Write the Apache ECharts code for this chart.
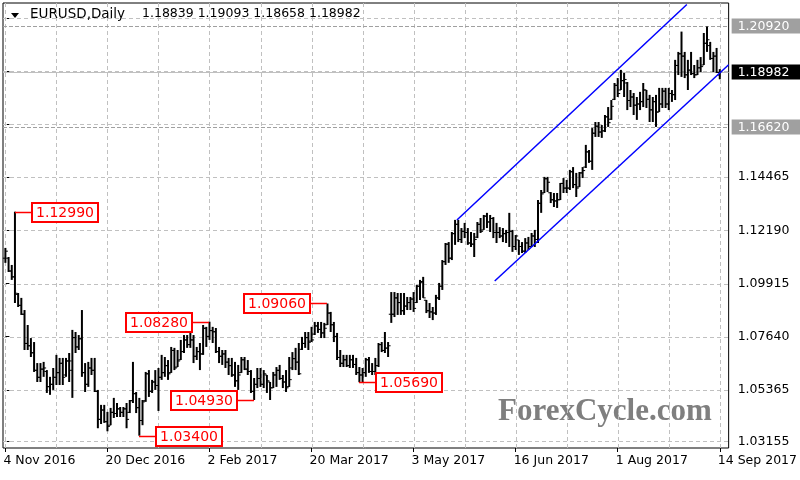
<!DOCTYPE html>
<html><head><meta charset="utf-8">
<script src="https://cdn.jsdelivr.net/npm/echarts@6/dist/echarts.min.js"></script>
<style>html,body{margin:0;padding:0;background:#fff}#c{width:800px;height:480px}</style>
</head><body><div id="c"></div><script>
// EURUSD Daily, one bar per weekday from 4 Nov 2016 (index 0) to 14 Sep 2017 (index 224)
const opens=[
1.1100,1.1100,1.1045,1.1020,1.0945,1.0898,1.0860,1.0735,1.0725,1.0695,
1.0620,1.0590,1.0625,1.0615,1.0550,1.0560,1.0590,1.0610,1.0650,1.0600,
1.0660,1.0620,1.0760,1.0720,1.0755,1.0610,1.0560,1.0630,1.0620,1.0530,
1.0410,1.0450,1.0400,1.0385,1.0440,1.0435,1.0455,1.0440,1.0455,1.0440,
1.0490,1.0520,1.0460,1.0405,1.0490,1.0605,1.0530,1.0570,1.0555,1.0590,
1.0610,1.0640,1.0610,1.0705,1.0634,1.0665,1.0700,1.0750,1.0730,1.0750,
1.0680,1.0700,1.0690,1.0800,1.0765,1.0790,1.0785,1.0700,1.0680,1.0690,
1.0655,1.0640,1.0600,1.0575,1.0610,1.0665,1.0625,1.0615,1.0530,1.0560,
1.0585,1.0560,1.0600,1.0570,1.0545,1.0600,1.0620,1.0585,1.0570,1.0550,
1.0630,1.0670,1.0655,1.0710,1.0735,1.0760,1.0745,1.0775,1.0810,1.0795,
1.0780,1.0815,1.0865,1.0815,1.0765,1.0675,1.0650,1.0665,1.0640,1.0665,
1.0645,1.0610,1.0600,1.0610,1.0665,1.0615,1.0615,1.0640,1.0730,1.0705,
1.0715,1.0860,1.0860,1.0930,1.0910,1.0875,1.0895,1.0910,1.0925,1.0910,
1.0980,1.1000,1.0920,1.0875,1.0870,1.0865,1.0930,1.0980,1.1085,1.1160,
1.1100,1.1205,1.1245,1.1180,1.1215,1.1210,1.1165,1.1160,1.1190,1.1245,
1.1221,1.1280,1.1255,1.1270,1.1210,1.1210,1.1195,1.1205,1.1210,1.1215,
1.1150,1.1178,1.1150,1.1130,1.1165,1.1150,1.1195,1.1180,1.1335,1.1380,
1.1440,1.1380,1.1350,1.1345,1.1350,1.1420,1.1400,1.1400,1.1470,1.1415,
1.1405,1.1465,1.1490,1.1555,1.1515,1.1635,1.1665,1.1640,1.1645,1.1705,
1.1695,1.1780,1.1840,1.1820,1.1860,1.1850,1.1775,1.1790,1.1755,1.1760,
1.1770,1.1820,1.1780,1.1735,1.1770,1.1726,1.1760,1.1815,1.1760,1.1805,
1.1800,1.1925,1.1975,1.1965,1.1885,1.1905,1.1890,1.1885,1.1915,1.1927,
1.2020,1.2010,1.1955,1.1965,1.18839];
const highs=[
1.1144,1.1105,1.1071,1.1299,1.0951,1.0930,1.0878,1.0814,1.0758,1.0741,
1.0651,1.0651,1.0656,1.0621,1.0592,1.0630,1.0686,1.0673,1.0673,1.0673,
1.0694,1.0793,1.0784,1.0771,1.0878,1.0651,1.0656,1.0673,1.0673,1.0536,
1.0472,1.0472,1.0442,1.0459,1.0502,1.0480,1.0463,1.0463,1.0480,1.0493,
1.0656,1.0527,1.0502,1.0493,1.0613,1.0621,1.0579,1.0621,1.0630,1.0686,
1.0677,1.0664,1.0720,1.0716,1.0707,1.0750,1.0771,1.0771,1.0780,1.0771,
1.0720,1.0737,1.0814,1.0806,1.0828,1.0806,1.0801,1.0720,1.0707,1.0707,
1.0673,1.0673,1.0656,1.0643,1.0677,1.0677,1.0664,1.0621,1.0587,1.0630,
1.0630,1.0621,1.0600,1.0570,1.0613,1.0634,1.0643,1.0600,1.0621,1.0677,
1.0698,1.0716,1.0737,1.0763,1.0784,1.0784,1.0806,1.0827,1.0827,1.0827,
1.0823,1.0906,1.0870,1.0827,1.0780,1.0707,1.0686,1.0686,1.0686,1.0686,
1.0673,1.0634,1.0630,1.0673,1.0677,1.0651,1.0673,1.0737,1.0741,1.0784,
1.0741,1.0955,1.0955,1.0951,1.0951,1.0951,1.0934,1.0934,1.0955,1.0985,
1.1007,1.1020,1.0921,1.0908,1.0891,1.0943,1.0994,1.1092,1.1165,1.1169,
1.1212,1.1264,1.1264,1.1229,1.1251,1.1229,1.1212,1.1208,1.1255,1.1272,
1.1285,1.1294,1.1285,1.1276,1.1251,1.1233,1.1229,1.1221,1.1294,1.1221,
1.1199,1.1178,1.1169,1.1186,1.1191,1.1208,1.1221,1.1349,1.1392,1.1448,
1.1448,1.1383,1.1379,1.1379,1.1422,1.1443,1.1435,1.1478,1.1490,1.1465,
1.1469,1.1490,1.1585,1.1563,1.1657,1.1683,1.1683,1.1670,1.1713,1.1747,
1.1777,1.1850,1.1871,1.1906,1.1893,1.1854,1.1820,1.1807,1.1790,1.1812,
1.1850,1.1820,1.1799,1.1790,1.1799,1.1829,1.1829,1.1829,1.1829,1.1820,
1.1949,1.1983,1.2070,1.1983,1.1949,1.1983,1.1927,1.1949,1.1961,1.2064,
1.2092,1.2026,1.1983,1.2000,1.19093];
const lows=[
1.1080,1.1041,1.1007,1.0908,1.0891,1.0857,1.0707,1.0707,1.0677,1.0613,
1.0570,1.0570,1.0592,1.0523,1.0515,1.0536,1.0557,1.0557,1.0557,1.0592,
1.0570,1.0502,1.0694,1.0707,1.0592,1.0527,1.0549,1.0600,1.0527,1.0372,
1.0390,1.0395,1.0359,1.0385,1.0416,1.0420,1.0420,1.0420,1.0372,1.0437,
1.0480,1.0437,1.0340,1.0385,1.0485,1.0506,1.0523,1.0536,1.0446,1.0579,
1.0592,1.0579,1.0609,1.0621,1.0634,1.0664,1.0694,1.0716,1.0716,1.0651,
1.0664,1.0621,1.0686,1.0720,1.0750,1.0737,1.0694,1.0651,1.0643,1.0630,
1.0600,1.0592,1.0549,1.0536,1.0609,1.0621,1.0600,1.0523,1.0493,1.0544,
1.0549,1.0544,1.0523,1.0493,1.0544,1.0549,1.0579,1.0544,1.0527,1.0549,
1.0621,1.0621,1.0600,1.0707,1.0716,1.0707,1.0741,1.0771,1.0780,1.0758,
1.0758,1.0814,1.0784,1.0741,1.0664,1.0634,1.0634,1.0634,1.0630,1.0630,
1.0600,1.0569,1.0570,1.0592,1.0609,1.0600,1.0600,1.0634,1.0698,1.0694,
1.0677,1.0823,1.0848,1.0857,1.0857,1.0857,1.0878,1.0878,1.0870,1.0908,
1.0921,1.0930,1.0865,1.0844,1.0835,1.0857,1.0921,1.0964,1.1071,1.1080,
1.1092,1.1157,1.1169,1.1165,1.1186,1.1157,1.1148,1.1105,1.1186,1.1208,
1.1221,1.1229,1.1212,1.1186,1.1165,1.1186,1.1169,1.1165,1.1148,1.1127,
1.1135,1.1114,1.1122,1.1122,1.1135,1.1148,1.1148,1.1165,1.1294,1.1379,
1.1383,1.1336,1.1319,1.1315,1.1349,1.1379,1.1379,1.1392,1.1400,1.1362,
1.1405,1.1443,1.1486,1.1508,1.1478,1.1619,1.1619,1.1615,1.1640,1.1662,
1.1692,1.1777,1.1790,1.1820,1.1790,1.1734,1.1747,1.1713,1.1692,1.1734,
1.1747,1.1743,1.1683,1.1683,1.1662,1.1726,1.1743,1.1743,1.1734,1.1769,
1.1777,1.1884,1.1876,1.1871,1.1820,1.1884,1.1871,1.1884,1.1897,1.1927,
1.1983,1.1949,1.1897,1.1893,1.18658];
const closes=[
1.1130,1.1045,1.1020,1.0950,1.0898,1.0860,1.0735,1.0725,1.0695,1.0620,
1.0590,1.0625,1.0630,1.0550,1.0560,1.0590,1.0610,1.0650,1.0590,1.0660,
1.0660,1.0760,1.0720,1.0755,1.0610,1.0560,1.0630,1.0620,1.0530,1.0410,
1.0450,1.0400,1.0380,1.0440,1.0435,1.0455,1.0440,1.0455,1.0410,1.0490,
1.0520,1.0460,1.0405,1.0485,1.0605,1.0530,1.0570,1.0555,1.0590,1.0610,
1.0640,1.0605,1.0705,1.0630,1.0660,1.0700,1.0750,1.0730,1.0750,1.0680,
1.0700,1.0690,1.0800,1.0765,1.0790,1.0785,1.0700,1.0680,1.0690,1.0655,
1.0640,1.0600,1.0575,1.0600,1.0665,1.0625,1.0615,1.0530,1.0560,1.0585,
1.0560,1.0605,1.0575,1.0545,1.0600,1.0620,1.0585,1.0570,1.0545,1.0580,
1.0670,1.0655,1.0605,1.0735,1.0760,1.0740,1.0750,1.0810,1.0795,1.0780,
1.0800,1.0865,1.0815,1.0765,1.0675,1.0650,1.0665,1.0640,1.0665,1.0645,
1.0610,1.0600,1.0610,1.0665,1.0615,1.0615,1.0640,1.0730,1.0705,1.0715,
1.0725,1.0860,1.0930,1.0910,1.0875,1.0895,1.0910,1.0925,1.0885,1.0980,
1.0995,1.0930,1.0875,1.0870,1.0865,1.0930,1.0980,1.1085,1.1160,1.1100,
1.1205,1.1245,1.1180,1.1215,1.1210,1.1165,1.1160,1.1180,1.1245,1.1215,
1.1280,1.1255,1.1270,1.1210,1.1210,1.1195,1.1205,1.1210,1.1215,1.1150,
1.1195,1.1150,1.1130,1.1165,1.1150,1.1195,1.1180,1.1335,1.1375,1.1440,
1.1425,1.1350,1.1345,1.1350,1.1420,1.1400,1.1400,1.1470,1.1415,1.1400,
1.1465,1.1475,1.1555,1.1515,1.1635,1.1665,1.1640,1.1645,1.1705,1.1680,
1.1750,1.1840,1.1805,1.1860,1.1865,1.1775,1.1790,1.1755,1.1760,1.1770,
1.1820,1.1780,1.1735,1.1770,1.1725,1.1760,1.1815,1.1760,1.1805,1.1800,
1.1925,1.1975,1.1965,1.1885,1.1905,1.1890,1.1885,1.1915,1.1920,1.2020,
1.2035,1.1955,1.1965,1.1895,1.18982];

const xTickIdx=[0,32,64,96,128,160,192,224];
const xTickLabels=['4 Nov 2016','20 Dec 2016','2 Feb 2017','20 Mar 2017','3 May 2017','16 Jun 2017','1 Aug 2017','14 Sep 2017'];
const xGridIdx=[0,16,32,48,64,80,96,112,128,144,160,176,192,208,224];
const yGrid=[1.03155,1.05365,1.07640,1.09915,1.12190,1.14465,1.16740,1.19015,1.21290];
const yLabelTicks=[1.03155,1.05365,1.07640,1.09915,1.12190,1.14465];
const levelPrices=[1.20920,1.16620,1.18982];
const levelKinds=['level','level','last'];
const annIdx=[3,42,64,78,101,111];
const annPrice=[1.12990,1.03400,1.08280,1.04930,1.09060,1.05690];
const annSide=['r','r','l','l','l','r'];
const upperChannel=[[141.58,1.12635],[213.67,1.21860]];
const lowerChannel=[[153.43,1.10024],[226.78,1.19279]];
const titleName='EURUSD,Daily';
const titleValues='1.18839 1.19093 1.18658 1.18982';

const FONT='"DejaVu Sans", sans-serif';
const chart=echarts.init(document.getElementById('c'),null,{renderer:'canvas'});
const tickLabelMap={}; xTickIdx.forEach((v,k)=>tickLabelMap[v]=xTickLabels[k]);

const option={
  animation:false,
  backgroundColor:'#fff',
  grid:{left:3,top:3,right:68,bottom:32,show:true,borderColor:'#000',borderWidth:1,backgroundColor:'#fff'},
  xAxis:{type:'value',min:-0.746,max:226.78,
    axisLine:{show:false},
    axisTick:{show:true,customValues:xTickIdx,length:4,lineStyle:{color:'#000'}},
    axisLabel:{show:true,customValues:xTickIdx,formatter:v=>tickLabelMap[v]||'',align:'left',margin:6,color:'#000',fontFamily:FONT,fontSize:12.5,padding:[0,0,0,-2]},
    splitLine:{show:false}},
  yAxis:{type:'value',position:'right',min:1.02874,max:1.21924,scale:true,
    axisLine:{show:false},
    axisTick:{show:true,customValues:yGrid,length:4,lineStyle:{color:'#000'}},
    axisLabel:{show:true,customValues:yLabelTicks,formatter:v=>v.toFixed(5),margin:9,color:'#000',fontFamily:FONT,fontSize:12.5},
    splitLine:{show:false}},
  graphic:[
    {type:'polygon',shape:{points:[[11,13],[19,13],[15,18]]},style:{fill:'#000'},z:100},
    {type:'text',left:30,top:7,style:{text:titleName,fill:'#000',font:'13.5px '+FONT},z:100},
    {type:'text',left:142,top:7,style:{text:titleValues,fill:'#000',font:'12.5px '+FONT},z:100},
    {type:'text',left:498,top:396,style:{text:'ForexCycle.com',fill:'#7f7f7f',font:'bold 31px "Liberation Serif", serif'},z:1}
  ],
  series:[
    {type:'custom',name:'vgrid',z:1,silent:true,data:xGridIdx.map(v=>[v,1.1]),encode:{x:0,y:1},
      renderItem:(params,api)=>{const cs=params.coordSys;const x=Math.round(api.coord([api.value(0),api.value(1)])[0])+0.5;
        return {type:'line',shape:{x1:x,y1:cs.y,x2:x,y2:cs.y+cs.height},style:{stroke:'#c0c0c0',lineWidth:1,lineDash:[4,3]}};}},
    {type:'custom',name:'hgrid',z:1,silent:true,data:yGrid.map(v=>[0,v]),encode:{x:0,y:1},
      renderItem:(params,api)=>{const cs=params.coordSys;const y=Math.round(api.coord([api.value(0),api.value(1)])[1])+0.5;
        return {type:'line',shape:{x1:cs.x,y1:y,x2:cs.x+cs.width,y2:y},style:{stroke:'#c0c0c0',lineWidth:1,lineDash:[4,3]}};}},
    {type:'custom',name:'levels',z:2,silent:true,data:levelPrices.map((v,k)=>[0,v,k]),encode:{x:0,y:1},
      renderItem:(params,api)=>{const cs=params.coordSys;const k=params.dataIndex;const y=Math.round(api.coord([api.value(0),api.value(1)])[1])+0.5;
        const last=levelKinds[k]==='last';
        const bx=cs.x+cs.width+3;
        return {type:'group',children:[
          {type:'line',shape:{x1:cs.x,y1:y,x2:cs.x+cs.width,y2:y},style:{stroke:last?'#c0c0c0':'#a0a0a0',lineWidth:1,lineDash:last?null:[4,2]}},
          {type:'rect',shape:{x:bx,y:y-8,width:800-bx,height:15},style:{fill:last?'#000':'#a0a0a0'}},
          {type:'text',style:{text:levelPrices[k].toFixed(5),x:bx+6,y:y,verticalAlign:'middle',fill:'#fff',font:'12.5px '+FONT}}
        ]};}},
    {type:'custom',name:'EURUSD',z:5,silent:true,
      data:highs.map((h,i)=>[i,opens[i],h,lows[i],closes[i]]),
      dimensions:['i','open','high','low','close'],
      encode:{x:0,y:[1,2,3,4]},
      renderItem:(params,api)=>{const x=api.value(0);
        const pO=api.coord([x,api.value(1)]),pH=api.coord([x,api.value(2)]),pL=api.coord([x,api.value(3)]),pC=api.coord([x,api.value(4)]);
        const cx=pH[0];
        return {type:'group',children:[
          {type:'line',shape:{x1:cx,y1:pH[1],x2:cx,y2:pL[1]},style:{stroke:'#000',lineWidth:2}},
          {type:'line',shape:{x1:cx-2.5,y1:pO[1],x2:cx,y2:pO[1]},style:{stroke:'#000',lineWidth:1}},
          {type:'line',shape:{x1:cx,y1:pC[1],x2:cx+2.5,y2:pC[1]},style:{stroke:'#000',lineWidth:1}}
        ]};}},
    {type:'line',name:'upper',z:6,silent:true,data:upperChannel,showSymbol:false,symbol:'none',lineStyle:{color:'#0000ff',width:1.5},clip:true},
    {type:'line',name:'lower',z:6,silent:true,data:lowerChannel,showSymbol:false,symbol:'none',lineStyle:{color:'#0000ff',width:1.5},clip:true},
    {type:'custom',name:'annotations',z:8,silent:true,data:annIdx.map((v,k)=>[v,annPrice[k]]),encode:{x:0,y:1},
      renderItem:(params,api)=>{const k=params.dataIndex;const c=api.coord([api.value(0),api.value(1)]);
        const y=Math.round(c[1])+0.5;const x0=Math.round(c[0]);const L=17,bw=66,bh=19;
        let x1,x2,bx;
        if(annSide[k]==='r'){x1=x0;x2=x0+L;bx=x2;}else{x1=x0-L;x2=x0;bx=x1-bw;}
        return {type:'group',children:[
          {type:'line',shape:{x1:x1,y1:y,x2:x2,y2:y},style:{stroke:'#ff0000',lineWidth:1.5}},
          {type:'rect',shape:{x:bx,y:Math.round(y-bh/2),width:bw,height:bh},style:{fill:'#fff',stroke:'#ff0000',lineWidth:2}},
          {type:'text',style:{text:annPrice[k].toFixed(5),x:bx+bw/2,y:y+0.5,align:'center',verticalAlign:'middle',fill:'#ff0000',font:'14px '+FONT}}
        ]};}}
  ]
};
chart.setOption(option);
</script></body></html>
